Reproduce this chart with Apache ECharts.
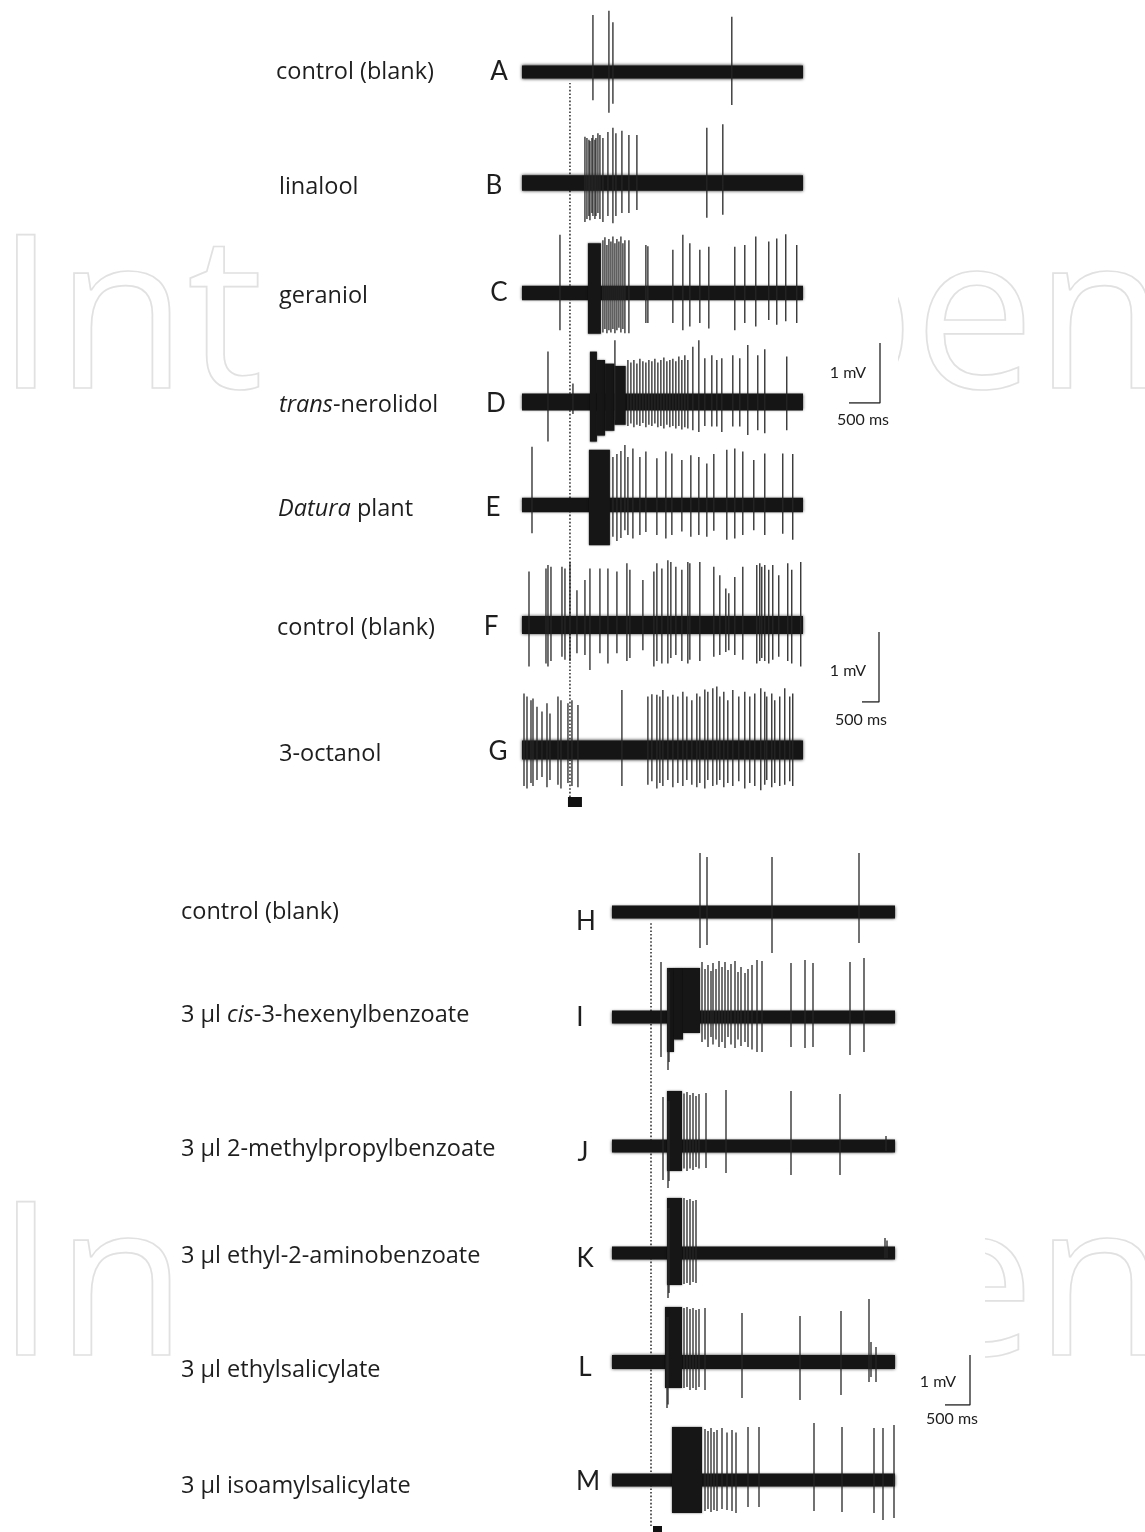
<!DOCTYPE html>
<html>
<head>
<meta charset="utf-8">
<script src="https://cdn.jsdelivr.net/npm/echarts@6.0.0/dist/echarts.min.js"></script>
<style>
  html, body { margin: 0; background: #fff; }
  #chart { width: 1145px; height: 1532px; }
</style>
</head>
<body>
<div id="chart"></div>
<script>
// time in ms from trace start, amplitudes in mV
// spikes: [t, up, down], bursts: [tStart, tEnd, up, down]
const TOP_SPAN = 4500
const BOTTOM_SPAN = 5660

const topLabels = ['control (blank)', 'linalool', 'geraniol', '{i|trans}-nerolidol', '{i|Datura} plant', 'control (blank)', '3-octanol']
const topLetters = ['A', 'B', 'C', 'D', 'E', 'F', 'G']
const bottomLabels = ['control (blank)', '3 µl {i|cis}-3-hexenylbenzoate', '3 µl 2-methylpropylbenzoate', '3 µl ethyl-2-aminobenzoate', '3 µl ethylsalicylate', '3 µl isoamylsalicylate']
const bottomLetters = ['H', 'I', 'J', 'K', 'L', 'M']

const noiseTop = [0.11, 0.13, 0.12, 0.14, 0.12, 0.15, 0.16]
const noiseBottom = [0.13, 0.13, 0.13, 0.13, 0.14, 0.13]

const stimTop = [[736, 960]]
const stimBottom = [[820, 1000]]
const markerTop = 768
const markerBottom = 780

const spikesA = [[1136,0.95,0.47],[1392,1.02,0.68],[1456,0.83,0.53],[3360,0.92,0.55]]
const burstsA = []

const spikesB = [[1008,0.77,0.65],[1040,0.75,0.6],[1072,0.72,0.55],[1088,0.7,0.62],[1120,0.75,0.5],[1136,0.8,0.55],[1168,0.72,0.6],[1184,0.75,0.55],[1216,0.83,0.5],[1248,0.8,0.6],[1296,0.75,0.65],[1376,0.85,0.55],[1456,0.92,0.67],[1504,0.83,0.55],[1600,0.87,0.5],[1712,0.8,0.5],[1840,0.8,0.45],[2960,0.92,0.58],[3216,0.98,0.53]]
const burstsB = []

const spikesC = [[608,0.97,0.62],[1296,0.88,0.66],[1328,0.93,0.6],[1360,0.8,0.67],[1392,0.9,0.62],[1424,0.86,0.66],[1456,0.94,0.6],[1488,0.83,0.67],[1520,0.9,0.62],[1552,0.86,0.58],[1584,0.94,0.66],[1616,0.83,0.6],[1648,0.88,0.67],[1712,0.88,0.67],[1984,0.8,0.5],[2016,0.78,0.5],[2416,0.72,0.5],[2576,0.97,0.62],[2688,0.83,0.56],[2848,0.72,0.5],[2992,0.77,0.59],[3408,0.77,0.62],[3568,0.8,0.5],[3744,0.94,0.56],[3952,0.86,0.45],[4080,0.91,0.53],[4224,0.98,0.47],[4400,0.8,0.5]]
const burstsC = [[1056,1264,0.83,0.68]]

const spikesD = [[416,0.84,0.66],[816,0.31,0.2],[1488,1.03,0.3],[1696,0.7,0.4],[1744,0.66,0.36],[1792,0.7,0.42],[1840,0.64,0.38],[1888,0.72,0.4],[1936,0.68,0.35],[1984,0.66,0.42],[2032,0.7,0.38],[2080,0.68,0.4],[2128,0.72,0.36],[2176,0.66,0.42],[2224,0.7,0.4],[2272,0.74,0.44],[2320,0.68,0.38],[2368,0.7,0.42],[2416,0.72,0.4],[2464,0.68,0.44],[2512,0.76,0.4],[2560,0.7,0.46],[2608,0.78,0.42],[2656,0.7,0.44],[2736,0.92,0.47],[2832,1.03,0.5],[2928,0.73,0.4],[3040,0.78,0.41],[3120,0.7,0.41],[3200,0.73,0.5],[3376,0.78,0.41],[3488,0.73,0.41],[3616,0.95,0.55],[3776,0.78,0.47],[3888,0.88,0.52],[4240,0.76,0.47]]
const burstsD = [[1088,1200,0.84,0.66],[1200,1330,0.7,0.56],[1330,1480,0.64,0.48],[1480,1660,0.6,0.38]]

const spikesE = [[160,0.97,0.47],[1456,0.8,0.53],[1520,0.85,0.6],[1584,0.9,0.55],[1648,1.0,0.42],[1696,0.8,0.5],[1776,0.94,0.56],[1888,0.8,0.5],[1984,0.89,0.45],[2160,0.78,0.5],[2304,0.89,0.56],[2400,0.86,0.5],[2560,0.75,0.44],[2704,0.83,0.53],[2832,0.8,0.5],[2960,0.69,0.53],[3072,0.85,0.43],[3280,0.92,0.58],[3408,0.94,0.56],[3536,0.89,0.5],[3712,0.75,0.42],[3888,0.86,0.5],[4176,0.86,0.48],[4336,0.85,0.58]]
const burstsE = [[1072,1408,0.92,0.67]]

const spikesF = [[112,0.89,0.69],[384,0.94,0.64],[416,1.0,0.69],[464,0.97,0.6],[640,0.97,0.53],[688,0.94,0.58],[768,1.05,0.6],[880,0.58,0.47],[1008,0.75,0.5],[1088,0.94,0.75],[1248,0.94,0.47],[1376,0.94,0.64],[1520,0.89,0.47],[1680,1.03,0.6],[1728,0.92,0.55],[1936,0.75,0.42],[2112,0.89,0.69],[2160,1.03,0.6],[2240,0.94,0.64],[2336,1.08,0.64],[2384,1.05,0.55],[2464,0.97,0.5],[2560,0.92,0.6],[2656,1.05,0.64],[2688,1.03,0.58],[2848,1.05,0.6],[3072,0.97,0.53],[3168,0.83,0.5],[3264,0.61,0.45],[3312,0.53,0.42],[3408,0.8,0.5],[3536,0.97,0.58],[3760,1.0,0.64],[3808,1.03,0.6],[3840,0.97,0.55],[3888,1.0,0.6],[3952,0.92,0.64],[4016,1.0,0.58],[4112,0.83,0.53],[4256,1.03,0.6],[4320,0.92,0.64],[4464,1.05,0.69]]
const burstsF = []

const spikesG = [[32,0.94,0.6],[80,0.89,0.64],[144,0.83,0.55],[176,0.86,0.6],[240,0.72,0.5],[320,0.64,0.45],[400,0.78,0.62],[448,0.61,0.5],[576,0.89,0.58],[624,0.83,0.64],[736,0.78,0.55],[800,0.83,0.6],[896,0.75,0.62],[1600,1.0,0.6],[2016,0.89,0.58],[2080,0.93,0.52],[2160,0.92,0.64],[2208,0.89,0.55],[2256,1.0,0.6],[2336,0.89,0.5],[2416,0.92,0.62],[2496,0.89,0.55],[2576,0.97,0.6],[2640,0.89,0.5],[2720,0.83,0.58],[2800,0.94,0.62],[2848,0.89,0.55],[2928,1.01,0.64],[2976,0.97,0.5],[3056,1.03,0.6],[3120,1.06,0.58],[3168,0.89,0.5],[3232,0.97,0.62],[3296,0.83,0.55],[3376,1.0,0.6],[3472,0.89,0.52],[3568,0.97,0.64],[3648,0.89,0.55],[3728,0.94,0.6],[3824,1.03,0.67],[3888,0.97,0.58],[3920,0.89,0.5],[4000,0.94,0.62],[4048,0.83,0.55],[4128,0.89,0.6],[4208,1.03,0.58],[4288,0.89,0.52],[4336,0.94,0.6]]
const burstsG = []

const spikesH = [[1760,1.18,0.72],[1900,1.1,0.66],[3200,1.1,0.82],[4940,1.18,0.62]]
const burstsH = []

const spikesI = [[980,1.1,0.8],[1120,0.98,1.06],[1140,0.9,0.9],[1800,1.1,0.5],[1860,0.96,0.45],[1920,1.04,0.6],[1980,0.92,0.4],[2020,1.08,0.55],[2080,0.96,0.45],[2140,1.12,0.6],[2200,1.0,0.5],[2260,1.1,0.62],[2320,0.94,0.4],[2380,1.06,0.55],[2460,1.12,0.62],[2520,0.9,0.45],[2580,1.0,0.58],[2660,0.88,0.5],[2720,0.96,0.6],[2800,1.04,0.65],[2900,1.14,0.7],[3000,1.12,0.7],[3580,1.08,0.6],[3860,1.14,0.62],[4020,1.08,0.6],[4760,1.1,0.76],[5040,1.18,0.7]]
const burstsI = [[1100,1240,0.98,0.7],[1240,1420,0.98,0.45],[1420,1760,0.98,0.32]]

const spikesJ = [[1020,0.98,0.68],[1120,0.9,0.84],[1140,0.9,0.7],[1440,1.05,0.45],[1500,1.08,0.5],[1560,1.02,0.45],[1620,1.06,0.48],[1680,1.0,0.42],[1740,1.04,0.45],[1880,1.06,0.44],[2280,1.12,0.54],[3580,1.1,0.58],[4560,1.04,0.58],[5480,0.2,0.1]]
const burstsJ = [[1100,1400,1.1,0.5]]

const spikesK = [[1120,0.9,0.9],[1140,0.9,0.8],[1440,1.1,0.62],[1500,1.06,0.6],[1560,1.08,0.64],[1620,1.04,0.58],[1680,1.06,0.6],[5460,0.3,0.1],[5500,0.25,0.1]]
const burstsK = [[1100,1400,1.1,0.64]]

const spikesL = [[1100,0.9,0.92],[1120,0.9,0.85],[1440,1.08,0.52],[1500,1.1,0.5],[1560,1.06,0.56],[1620,1.08,0.52],[1680,1.04,0.56],[1740,1.06,0.5],[1860,1.08,0.56],[2600,0.98,0.72],[3760,0.92,0.76],[4580,1.02,0.66],[5140,1.26,0.4],[5180,0.4,0.3],[5280,0.3,0.4]]
const burstsL = [[1060,1400,1.1,0.52]]

const spikesM = [[1860,1.02,0.62],[1920,0.98,0.58],[1980,1.04,0.64],[2040,0.96,0.6],[2100,1.0,0.62],[2200,1.04,0.58],[2300,0.95,0.6],[2400,1.0,0.62],[2480,0.95,0.66],[2720,1.06,0.54],[2940,1.06,0.54],[4040,1.14,0.62],[4600,1.06,0.64],[5240,1.04,0.66],[5420,1.04,0.8],[5640,1.1,0.76]]
const burstsM = [[1200,1800,1.06,0.66]]

const topSpikes = [spikesA, spikesB, spikesC, spikesD, spikesE, spikesF, spikesG]
const topBursts = [burstsA, burstsB, burstsC, burstsD, burstsE, burstsF, burstsG]
const bottomSpikes = [spikesH, spikesI, spikesJ, spikesK, spikesL, spikesM]
const bottomBursts = [burstsH, burstsI, burstsJ, burstsK, burstsL, burstsM]

// layout (pixels)
const topRows = [72, 183, 293, 402, 505, 625, 750]
const bottomRows = [912, 1017, 1146, 1253, 1362, 1480]

const grids = [], xAxes = [], yAxes = [], series = []

function addGrid(box, xr, yr) {
  const i = grids.length
  grids.push(box)
  xAxes.push({ type: 'value', gridIndex: i, min: xr[0], max: xr[1], show: false })
  yAxes.push({ type: 'value', gridIndex: i, min: yr[0], max: yr[1], show: false })
  return i
}

function bandItem(params, api) {
  const a = api.coord([api.value(0), api.value(2)])
  const b = api.coord([api.value(1), -api.value(2)])
  return { type: 'rect', shape: { x: a[0], y: a[1], width: b[0] - a[0], height: b[1] - a[1] },
    style: { fill: '#151515', shadowBlur: 3, shadowColor: 'rgba(0,0,0,0.8)' } }
}

function burstItem(params, api) {
  const a = api.coord([api.value(0), api.value(2)])
  const b = api.coord([api.value(1), -api.value(3)])
  return { type: 'rect', shape: { x: a[0], y: a[1], width: b[0] - a[0], height: b[1] - a[1] },
    style: { fill: '#161616', shadowBlur: 2, shadowColor: 'rgba(0,0,0,0.6)' } }
}

function spikeItem(params, api) {
  const a = api.coord([api.value(0), api.value(1)])
  const b = api.coord([api.value(0), -api.value(2)])
  return { type: 'line', shape: { x1: a[0], y1: a[1], x2: b[0], y2: b[1] }, style: { stroke: '#262626', lineWidth: 1.3 } }
}

function addTrace(left, width, cy, pxPerMv, span, noise, spikes, bursts) {
  const h = 2 * pxPerMv
  const g = addGrid({ left: left, top: cy - h / 2, width: width, height: h }, [0, span], [-1, 1])
  const base = { type: 'custom', xAxisIndex: g, yAxisIndex: g, clip: false, silent: true }
  series.push(Object.assign({}, base, { renderItem: bandItem, data: [[0, span, noise]] }))
  series.push(Object.assign({}, base, { renderItem: burstItem, data: bursts }))
  series.push(Object.assign({}, base, { renderItem: spikeItem, data: spikes }))
}

topRows.forEach((cy, i) => addTrace(522, 281, cy, 60, TOP_SPAN, noiseTop[i], topSpikes[i], topBursts[i]))
bottomRows.forEach((cy, i) => addTrace(612, 283, cy, 50, BOTTOM_SPAN, noiseBottom[i], bottomSpikes[i], bottomBursts[i]))

// dotted stimulus markers
function addMarker(left, width, top, height, span, t) {
  const g = addGrid({ left: left, top: top, width: width, height: height }, [0, span], [0, 1])
  series.push({ type: 'line', xAxisIndex: g, yAxisIndex: g, symbol: 'none', silent: true, z: 1,
    data: [[t, 0], [t, 1]], lineStyle: { color: '#333', width: 1.6, type: [1.6, 2] } })
}
addMarker(522, 281, 83, 714, TOP_SPAN, markerTop)
addMarker(612, 283, 922, 604, BOTTOM_SPAN, markerBottom)

// stimulus bars
function stimItem(params, api) {
  const a = api.coord([api.value(0), 1])
  const b = api.coord([api.value(1), 0])
  return { type: 'rect', shape: { x: a[0], y: a[1], width: b[0] - a[0], height: b[1] - a[1] }, style: { fill: '#111' } }
}
function addStim(left, width, top, height, span, data) {
  const g = addGrid({ left: left, top: top, width: width, height: height }, [0, span], [0, 1])
  series.push({ type: 'custom', xAxisIndex: g, yAxisIndex: g, clip: false, silent: true, renderItem: stimItem, data: data })
}
addStim(522, 281, 797, 10, TOP_SPAN, stimTop)
addStim(612, 283, 1526, 8, BOTTOM_SPAN, stimBottom)

// scale bars: 500 ms by 1 mV
function addScale(left, top, width, height) {
  const g = addGrid({ left: left, top: top, width: width, height: height }, [0, 500], [0, 1])
  series.push({ type: 'line', xAxisIndex: g, yAxisIndex: g, symbol: 'none', silent: true,
    data: [[500, 1], [500, 0], [0, 0]], lineStyle: { color: '#222', width: 1.3 } })
}
addScale(849, 343, 31, 60)
addScale(862, 632, 17, 70)
addScale(945, 1355, 25, 50)

// text
const labelFont = '"Open Sans", "Noto Sans", sans-serif'
const letterFont = 'Lato, "Open Sans", sans-serif'
const graphics = []

function wm(y, coverX, coverW) {
  graphics.push({ type: 'text', x: -4, y: y, z: 0, silent: true,
    style: { text: 'IntechOpen', fill: 'none', stroke: '#e1e1e1', lineWidth: 1.7, fontSize: 214,
      fontFamily: '"Open Sans"', align: 'left', verticalAlign: 'middle' } })
  graphics.push({ type: 'rect', z: 1, silent: true, shape: { x: coverX, y: y - 130, width: coverW, height: 290 }, style: { fill: '#fff' } })
}
wm(327, 266, 632)
wm(1294, 178, 807)

function txt(x, y, text, size, font, extra) {
  graphics.push({ type: 'text', x: x, y: y, z: 10, silent: true,
    style: Object.assign({ text: text, fill: '#1e1e1e', fontSize: size, fontFamily: font, align: 'left', verticalAlign: 'middle',
      rich: { i: { fontStyle: 'italic', fontSize: size, fontFamily: font, fill: '#1e1e1e' } } }, extra || {}) })
}

const topLabelX = [276, 279, 279, 279, 278, 277, 279]
const topLabelY = [72, 187, 296, 405, 509, 628, 754]
const topLetterPos = [[499, 72], [494, 186], [499, 293], [496, 404], [493, 508], [491, 627], [498, 752]]
topLabels.forEach((s, i) => txt(topLabelX[i], topLabelY[i], s, 23.5, labelFont))
topLetters.forEach((s, i) => txt(topLetterPos[i][0], topLetterPos[i][1], s, 26, letterFont, { align: 'center' }))

const bottomLabelY = [912, 1015, 1149, 1256, 1370, 1486]
const bottomLetterPos = [[586, 922], [580, 1018], [583, 1153], [585, 1259], [585, 1368], [588, 1482]]
bottomLabels.forEach((s, i) => txt(181, bottomLabelY[i], s, 23.5, labelFont))
bottomLetters.forEach((s, i) => txt(bottomLetterPos[i][0], bottomLetterPos[i][1], s, 26, letterFont, { align: 'center' }))

txt(848, 373, '1 mV', 16, letterFont, { align: 'center' })
txt(863, 420, '500 ms', 16, letterFont, { align: 'center' })
txt(848, 671, '1 mV', 16, letterFont, { align: 'center' })
txt(861, 720, '500 ms', 16, letterFont, { align: 'center' })
txt(938, 1382, '1 mV', 16, letterFont, { align: 'center' })
txt(952, 1419, '500 ms', 16, letterFont, { align: 'center' })

const chart = echarts.init(document.getElementById('chart'))
chart.setOption({
  animation: false,
  backgroundColor: '#fff',
  grid: grids,
  xAxis: xAxes,
  yAxis: yAxes,
  series: series,
  graphic: { elements: graphics }
})
</script>
</body>
</html>
